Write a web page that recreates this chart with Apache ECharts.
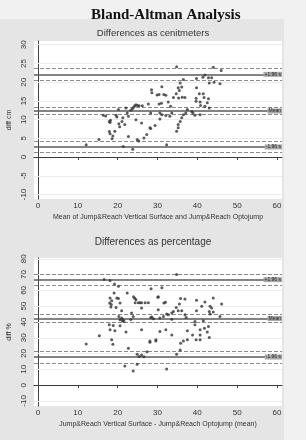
<!DOCTYPE html>
<html>
<head>
<meta charset="utf-8">
<script src="https://cdn.jsdelivr.net/npm/echarts@6/dist/echarts.min.js"></script>
<style>
  html, body { margin: 0; background: #f1f1f1; }
  #chart { width: 306px; height: 440px; }
</style>
</head>
<body>
<div id="chart"></div>
<script>
// tick labels
const xTicks = [0, 10, 20, 30, 40, 50, 60];
const cmTicks = [-10, -5, 0, 5, 10, 15, 20, 25, 30];
const pctTicks = [-10, 0, 10, 20, 30, 40, 50, 60, 70, 80];

// mean of the two methods vs difference in cm
const cmPoints = [
  [12.1,3.3],[15.3,4.7],[16.4,11.2],[17.0,11.0],[18.1,9.2],[18.2,9.8],[17.9,9.5],[17.9,6.8],[18.1,6.2],
  [18.6,4.9],[18.8,5.6],[19.6,11.2],[19.8,10.7],[19.3,6.9],[20.2,12.7],[20.3,8.9],[20.5,8.1],[21.1,9.5],
  [21.3,10.5],[21.8,8.7],[22.1,13.1],[22.4,11.8],[22.7,10.9],[21.4,2.8],[22.7,5.5],[23.3,12.5],[23.7,12.9],
  [24.0,13.3],[24.3,13.7],[24.6,14.0],[25.0,13.8],[25.4,13.7],[23.8,2.1],[24.9,4.7],[25.3,4.3],[24.6,10.0],
  [26.0,9.1],[26.2,13.7],[26.6,5.1],[27.3,6.0],[27.7,14.2],[28.3,11.8],[28.3,7.6],[28.6,17.2],[29.4,8.4],
  [29.9,16.6],[30.4,16.7],[31.1,18.8],[31.6,16.7],[32.1,16.5],[28.5,18.0],[30.4,14.2],[31.0,14.4],[32.7,14.7],
  [33.3,13.6],[34.0,15.9],[34.7,16.9],[35.3,15.8],[36.2,16.0],[35.5,17.8],[36.9,15.9],[35.7,19.8],[36.5,20.7],
  [36.1,18.7],[35.2,18.5],[34.8,24.1],[39.8,21.0],[41.4,21.3],[41.9,21.9],[42.8,21.2],[43.6,21.2],[43.0,19.8],
  [44.2,20.0],[45.7,19.6],[44.0,24.0],[46.0,23.1],[39.8,18.5],[40.5,16.9],[39.7,15.7],[39.7,14.9],[41.5,16.9],
  [41.7,15.9],[42.8,15.6],[40.7,14.7],[42.5,14.5],[41.9,13.6],[43.0,13.1],[40.8,13.8],[37.5,12.7],[38.6,12.2],
  [38.9,11.8],[39.4,11.2],[40.7,11.3],[36.5,11.3],[37.1,11.8],[30.6,11.8],[31.1,11.3],[32.1,11.1],[33.1,10.9],
  [33.6,11.8],[30.6,10.2],[28.1,7.8],[36.1,10.5],[35.7,9.5],[35.2,8.7],[34.8,6.9],[35.2,7.8],[32.3,3.3]
];

// mean of the two methods vs difference in %
const pctPoints = [
  [12.1,26.1],[15.4,31.2],[16.6,66.9],[18.1,66.2],[19.2,64.1],[20.2,62.6],[18.1,55.2],[18.5,53.5],[18.0,52.0],
  [18.4,51.0],[18.3,49.5],[19.1,58.4],[19.8,55.2],[20.2,54.8],[19.6,49.2],[20.6,52.0],[21.0,47.1],[20.3,43.5],
  [20.6,41.4],[21.0,42.5],[21.4,41.4],[21.6,40.3],[21.2,40.8],[17.9,38.2],[18.1,35.0],[18.9,37.8],[19.3,34.4],
  [18.5,28.7],[18.8,25.9],[20.6,37.6],[22.1,33.6],[22.4,58.4],[21.8,12.1],[22.7,23.4],[23.5,45.7],[23.9,43.5],
  [23.3,41.5],[24.3,55.0],[24.0,56.0],[24.6,54.0],[24.4,52.2],[25.2,52.2],[25.6,52.2],[26.0,52.2],[26.9,52.2],
  [27.7,52.2],[23.9,8.9],[24.9,19.6],[25.4,18.1],[26.0,19.1],[24.9,13.2],[26.0,48.8],[26.0,35.0],[26.6,18.0],
  [27.4,21.2],[28.1,27.2],[29.6,28.0],[28.4,61.0],[28.3,42.9],[30.1,55.6],[34.8,70.0],[31.1,61.6],[30.2,56.0],
  [31.6,52.0],[32.0,52.5],[30.2,47.8],[28.6,43.2],[29.0,42.0],[30.6,42.5],[31.5,43.5],[32.3,45.0],[32.7,44.6],
  [33.6,45.7],[33.6,41.8],[34.7,49.2],[35.5,51.4],[35.8,54.8],[36.9,54.6],[35.2,47.1],[36.1,47.1],[34.0,46.7],
  [36.9,44.6],[37.2,42.9],[39.8,53.7],[41.1,49.9],[41.9,52.7],[39.8,47.1],[44.0,55.2],[43.2,49.9],[43.6,48.9],
  [43.0,46.7],[44.0,46.3],[43.2,45.0],[46.1,51.4],[45.7,43.5],[39.4,40.3],[39.4,38.2],[41.5,40.8],[30.6,34.0],
  [32.1,35.0],[33.6,31.8],[28.1,28.0],[29.6,28.7],[37.5,34.4],[38.8,31.8],[37.5,28.7],[36.5,28.0],[35.8,26.6],
  [39.7,28.7],[40.7,28.7],[40.7,35.0],[41.8,36.1],[42.8,37.1],[42.5,33.6],[40.7,31.8],[43.0,30.1],[35.7,22.3],
  [34.8,19.6],[32.3,10.2]
];

// limits of agreement (+1.96 s, mean, -1.96 s) and their confidence bands
const cmSolid = [22.1, 12.3, 2.7];
const cmDashed = [23.7, 20.5, 13.4, 11.4, 4.2, 1.2];
const pctSolid = [66.8, 42.2, 17.8];
const pctDashed = [70.4, 63.1, 44.6, 39.9, 21.4, 13.9];
const limitLabels = ['+1.96 s', 'Mean', '-1.96 s'];

const chart = echarts.init(document.getElementById('chart'), null, { renderer: 'canvas' });

const SANS = 'Liberation Sans, Arial, sans-serif';

function refLines(ticks, solid, dashed) {
  const data = [];
  ticks.forEach(v => data.push({ yAxis: v, lineStyle: { color: '#ececec', width: 1, type: 'solid' }, label: { show: false } }));
  dashed.forEach(v => data.push({ yAxis: v, lineStyle: { color: '#8a8a8a', width: 1, type: [4, 2] }, label: { show: false } }));
  solid.forEach((v, i) => data.push({
    yAxis: v,
    lineStyle: { color: '#5a5a5a', width: 1.6, type: 'solid' },
    label: {
      show: true, position: 'insideEnd', distance: 0, formatter: limitLabels[i],
      fontSize: 5, fontFamily: SANS, color: '#222', backgroundColor: '#a8a8a8', padding: [0, 1]
    }
  }));
  data.push({ yAxis: 0, lineStyle: { color: '#3a3a3a', width: 1.2, type: 'solid' }, label: { show: false } });
  return { silent: true, symbol: 'none', animation: false, data };
}

function xAxisFor(grid, name) {
  return {
    type: 'value', gridIndex: grid, min: -1, max: 61.26,
    name, nameLocation: 'middle', nameGap: 15,
    nameTextStyle: { fontSize: 7, fontFamily: SANS, color: '#333' },
    axisLine: { lineStyle: { color: '#444', width: 1 } },
    axisTick: { customValues: xTicks, length: 3, lineStyle: { color: '#444' } },
    axisLabel: { customValues: xTicks, fontSize: 8, fontFamily: SANS, color: '#333', margin: 3 },
    splitLine: { show: false }
  };
}

function yAxisFor(grid, name, min, max, ticks) {
  return {
    type: 'value', gridIndex: grid, min, max,
    name, nameLocation: 'middle', nameGap: 15, nameRotate: 90,
    nameTextStyle: { fontSize: 7, fontFamily: SANS, color: '#333' },
    axisLine: { show: true, lineStyle: { color: '#444', width: 1 } },
    axisTick: { show: true, customValues: ticks, length: 3, lineStyle: { color: '#444' } },
    axisLabel: { customValues: ticks, rotate: 90, fontSize: 8, fontFamily: SANS, color: '#333', margin: 6 },
    splitLine: { show: false }
  };
}

chart.setOption({
  backgroundColor: '#f1f1f1',
  animation: false,
  graphic: [{
    type: 'rect', shape: { x: 0, y: 19, width: 284, height: 421 },
    style: { fill: '#e5e5e5' }, z: -10, silent: true
  }],
  title: [
    { text: 'Bland-Altman Analysis', left: 86, top: 3,
      textStyle: { fontFamily: 'Liberation Serif, serif', fontWeight: 'bold', fontSize: 15, color: '#111' } },
    { text: 'Differences as cenitmeters', left: 'center', top: 28, padding: 0,
      textStyle: { fontFamily: SANS, fontWeight: 'normal', fontSize: 9.5, color: '#333' } },
    { text: 'Differences as percentage', left: 'center', top: 237, padding: 0,
      textStyle: { fontFamily: SANS, fontWeight: 'normal', fontSize: 10, color: '#333' } }
  ],
  grid: [
    { left: 34, width: 248, top: 41, height: 158, show: true, backgroundColor: '#fff', borderWidth: 0,
      containLabel: false, outerBoundsMode: 'none' },
    { left: 34, width: 248, top: 258, height: 148, show: true, backgroundColor: '#fff', borderWidth: 0,
      containLabel: false, outerBoundsMode: 'none' }
  ],
  xAxis: [
    xAxisFor(0, 'Mean of Jump&Reach Vertical Surface and Jump&Reach Optojump'),
    xAxisFor(1, 'Jump&Reach Vertical Surface - Jump&Reach Optojump (mean)')
  ],
  yAxis: [
    yAxisFor(0, 'diff cm', -11.2, 31.0, cmTicks),
    yAxisFor(1, 'diff %', -13.2, 80.5, pctTicks)
  ],
  series: [
    { type: 'scatter', xAxisIndex: 0, yAxisIndex: 0, data: cmPoints, symbolSize: 3,
      itemStyle: { color: '#333' }, z: 5, markLine: refLines(cmTicks, cmSolid, cmDashed) },
    { type: 'scatter', xAxisIndex: 1, yAxisIndex: 1, data: pctPoints, symbolSize: 3,
      itemStyle: { color: '#333' }, z: 5, markLine: refLines(pctTicks, pctSolid, pctDashed) }
  ]
});
</script>
</body>
</html>
